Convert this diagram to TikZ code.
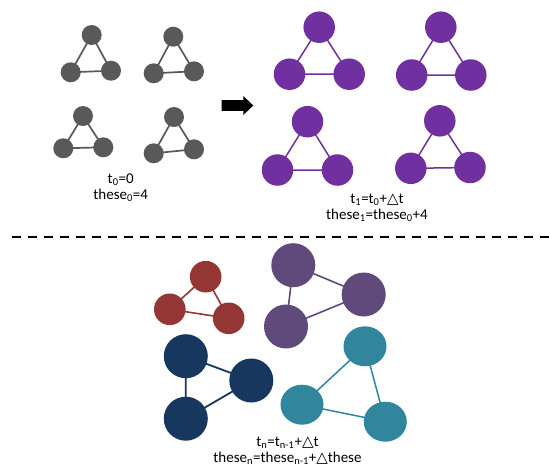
\documentclass[tikz,border=0pt]{standalone}
\usepackage{fontspec}
\setmainfont{Carlito}
\newfontfamily\symfont{DejaVu Sans}
\usetikzlibrary{shapes.geometric,backgrounds}
\definecolor{ngray}{HTML}{595959}
\definecolor{npurple}{HTML}{7030A0}
\definecolor{nred}{HTML}{943634}
\definecolor{ndusk}{HTML}{604A7B}
\definecolor{nnavy}{HTML}{17375E}
\definecolor{nteal}{HTML}{31859C}
\newcommand{\tri}{{\symfont △}}
\tikzset{
  gnode/.style={circle,fill=ngray,draw=none,inner sep=0pt,minimum size=20pt},
  pnode/.style={circle,fill=npurple,draw=none,inner sep=0pt,minimum size=31.5pt},
  rnode/.style={circle,fill=nred,draw=none,inner sep=0pt,minimum size=31.6pt},
  dnode/.style={circle,fill=ndusk,draw=none,inner sep=0pt,minimum size=44pt},
  bnode/.style={circle,fill=nnavy,draw=none,inner sep=0pt,minimum size=44pt},
  tnode/.style={ellipse,fill=nteal,draw=none,inner sep=0pt,minimum width=43pt,minimum height=40pt},
  gedge/.style={draw=ngray,line width=1.7pt},
  pedge/.style={draw=npurple,line width=1.5pt},
  redge/.style={draw=nred,line width=1.6pt},
  dedge/.style={draw=ndusk,line width=1.6pt},
  bedge/.style={draw=nnavy,line width=1.8pt},
  tedge/.style={draw=nteal,line width=1.5pt},
  lbl/.style={align=center,inner sep=0pt,anchor=base,font=\fontsize{15}{16}\selectfont},
  sep/.style={line width=1.5pt,dash pattern=on 9pt off 7pt},
}
\begin{document}
\begin{tikzpicture}[x=1pt,y=-1pt]
\useasboundingbox (0,0) rectangle (549,467);
% gray graphs
\foreach \i/\tx/\ty/\lx/\ly/\rx/\ry in {1/91.7/35/70.7/72.3/111/70.7, 2/173.3/36.7/153.7/73.3/194/71.3, 3/83/116/63.3/148.3/103.3/147.3, 4/174/117/153.7/153.3/194/149.3}{
  \node[gnode] (g\i t) at (\tx,\ty) {};
  \node[gnode] (g\i l) at (\lx,\ly) {};
  \node[gnode] (g\i r) at (\rx,\ry) {};
}
% purple graphs
\foreach \i/\tx/\ty/\lx/\ly/\rx/\ry in {1/319.2/27.2/289.5/74.2/349.2/74.2, 2/440.8/27.2/411.7/75/470.8/75, 3/307.5/121.7/277.5/170/337.5/170, 4/439.8/120.8/410.8/168.3/470/167.5}{
  \node[pnode] (p\i t) at (\tx,\ty) {};
  \node[pnode] (p\i l) at (\lx,\ly) {};
  \node[pnode] (p\i r) at (\rx,\ry) {};
}
% bottom graphs
\node[rnode] (rt) at (205.7,276.7) {};
\node[rnode] (rl) at (169.8,309.3) {};
\node[rnode] (rr) at (228.7,318.3) {};
\node[dnode] (dt) at (293.3,265.2) {};
\node[dnode] (dr) at (363.7,294.5) {};
\node[dnode] (dl) at (286,326.5) {};
\node[bnode] (bt) at (185.8,356.2) {};
\node[bnode] (br) at (251.3,380.5) {};
\node[bnode] (bb) at (185.8,418.7) {};
\node[tnode] (tt) at (365,346.3) {};
\node[tnode] (tl) at (302,404.7) {};
\node[tnode] (tr) at (385.3,421.7) {};
% labels (base anchor = baseline of the last line)
\node[lbl] (lab0) at (120.7,199.3) {t\textsubscript{0}=0\\these\textsubscript{0}=4};
\node[lbl] (lab1) at (377,219.3) {t\textsubscript{1}=t\textsubscript{0}+\tri t\\these\textsubscript{1}=these\textsubscript{0}+4};
\node[lbl] (labn) at (287.5,462.3) {t\textsubscript{n}=t\textsubscript{n-1}+\tri t\\these\textsubscript{n}=these\textsubscript{n-1}+\tri these};
% arrow
\fill[black] (221.7,100) -- (243.3,100) -- (243.3,96) -- (253.3,105.5) -- (243.3,115) -- (243.3,110.8) -- (221.7,110.8) -- cycle;
% dashed separator
\coordinate (sepL) at (12,237);
\coordinate (sepR) at (549,237);
\draw[sep] (sepL) -- (sepR);
\begin{scope}[on background layer]
  \fill[white] (0,0) rectangle (549,467);
  \foreach \i in {1,2,3,4}{
    \draw[gedge] (g\i t.center) -- (g\i l.center) -- (g\i r.center) -- cycle;
    \draw[pedge] (p\i t.center) -- (p\i l.center) -- (p\i r.center) -- cycle;
  }
  \draw[redge] (rt.center) -- (rl.center) -- (rr.center) -- cycle;
  \draw[dedge] (dt.center) -- (dr.center) -- (dl.center) -- cycle;
  \draw[bedge] (bt.center) -- (br.center) -- (bb.center) -- cycle;
  \draw[tedge] (tt.center) -- (tl.center) -- (tr.center) -- cycle;
\end{scope}
\end{tikzpicture}
\end{document}
